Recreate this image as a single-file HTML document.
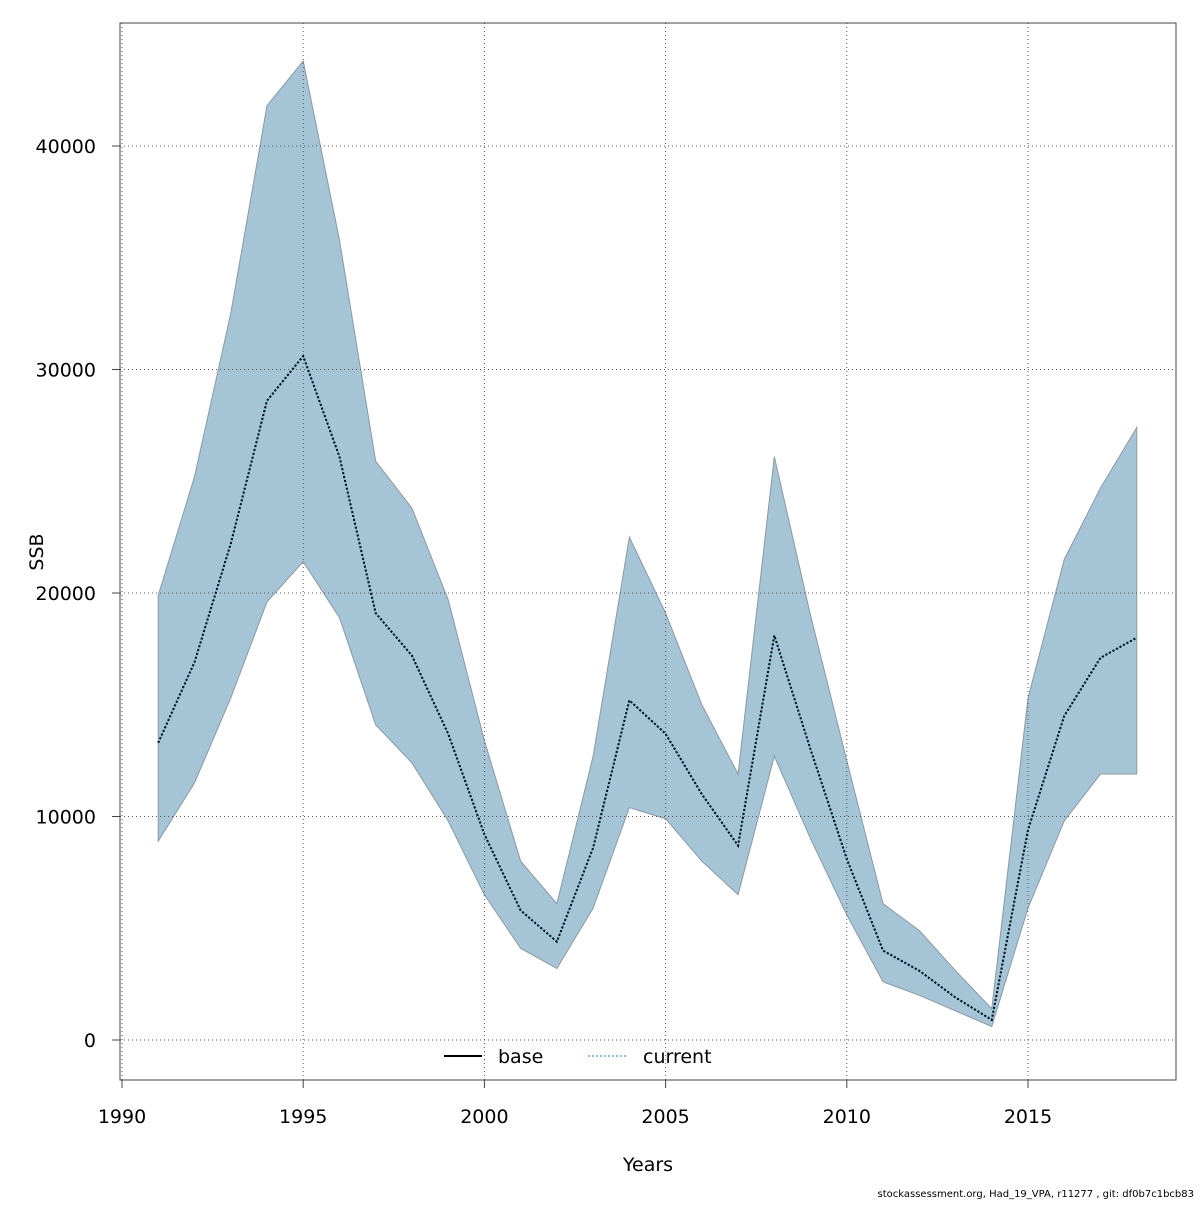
<!DOCTYPE html>
<html><head><meta charset="utf-8"><style>
body{margin:0;background:#fff;}
svg text{font-family:"DejaVu Sans","Liberation Sans",sans-serif;fill:#000;}
</style></head><body>
<svg width="1200" height="1200" xmlns="http://www.w3.org/2000/svg">
<g id="band"></g><g id="grid"></g><g id="lines"></g><g id="axes"></g>
<rect x="120" y="23" width="1056" height="1057" fill="none" stroke="#444" stroke-width="1"/>
<text x="648" y="1171" font-size="19" text-anchor="middle">Years</text>
<text x="43" y="552" font-size="19" text-anchor="middle" transform="rotate(-90 43 552)">SSB</text>
<g>
<line x1="444" y1="1056" x2="482" y2="1056" stroke="#000" stroke-width="2"/>
<text x="498" y="1063" font-size="19">base</text>
<line x1="588" y1="1056" x2="626" y2="1056" stroke="#7ec3e0" stroke-width="2" stroke-dasharray="2,2"/>
<text x="643" y="1063" font-size="19">current</text>
</g>
<text x="1194" y="1197" font-size="10" text-anchor="end">stockassessment.org, Had_19_VPA, r11277 , git: df0b7c1bcb83</text>
</svg>
<script>
const years=[1991,1992,1993,1994,1995,1996,1997,1998,1999,2000,2001,2002,2003,2004,2005,2006,2007,2008,2009,2010,2011,2012,2013,2014,2015,2016,2017,2018];
const lower=[8900,11500,15300,19600,21400,18900,14100,12400,9800,6500,4100,3200,5900,10400,9900,8000,6500,12700,9000,5600,2600,2000,1300,600,5900,9800,11900,11900];
const estimate=[13300,16900,22200,28600,30600,26100,19100,17200,13700,9200,5800,4400,8600,15200,13700,11000,8700,18100,13000,8100,4000,3100,1900,900,9400,14500,17100,18000];
const upper=[19900,25200,32500,41800,43800,35800,25900,23800,19700,13400,8000,6100,12700,22500,19100,15000,11900,26100,19000,12500,6100,4900,3100,1400,15300,21500,24700,27400];
const xTicks=[1990,1995,2000,2005,2010,2015];
const yTicks=[0,10000,20000,30000,40000];
const NS="http://www.w3.org/2000/svg";
const X=v=>122+(v-1990)*(1028-122)/25;
const Y=v=>1040-v*(1040-146)/40000;
function mk(p,t,a){const e=document.createElementNS(NS,t);for(const k in a)e.setAttribute(k,a[k]);document.getElementById(p).appendChild(e);return e;}
let pts=years.map((y,i)=>X(y)+','+Y(upper[i]));
for(let i=years.length-1;i>=0;i--)pts.push(X(years[i])+','+Y(lower[i]));
const band=mk('band','polygon',{points:pts.join(' '),fill:'#a5c4d5',stroke:'#8a9aa4','stroke-width':1});


xTicks.forEach(t=>{
 const g=mk('grid','line',{x1:X(t),x2:X(t),y1:23,y2:1080,stroke:'#555','stroke-width':1,'stroke-dasharray':'1,3'});
 
 
 const tk=mk('axes','line',{x1:X(t),x2:X(t),y1:1080,y2:1088,stroke:'#444'});
 
 
 const tx=mk('axes','text',{x:X(t),y:1123,'font-size':19,'text-anchor':'middle'});tx.textContent=t;
 
 
});
yTicks.forEach(t=>{
 const g=mk('grid','line',{x1:120,x2:1176,y1:Y(t),y2:Y(t),stroke:'#555','stroke-width':1,'stroke-dasharray':'1,3'});
 
 
 const tk=mk('axes','line',{x1:112,x2:120,y1:Y(t),y2:Y(t),stroke:'#444'});
 
 
 const tx=mk('axes','text',{x:96,y:Y(t)+7,'font-size':19,'text-anchor':'end'});tx.textContent=t;
 
 
});
const lp=years.map((y,i)=>X(y)+','+Y(estimate[i])).join(' ');
const l1=mk('lines','polyline',{points:lp,fill:'none',stroke:'#7ec3e0','stroke-width':2});


const l2=mk('lines','polyline',{points:lp,fill:'none',stroke:'#000','stroke-width':2,'stroke-dasharray':'2,2'});


</script>
</body></html>
